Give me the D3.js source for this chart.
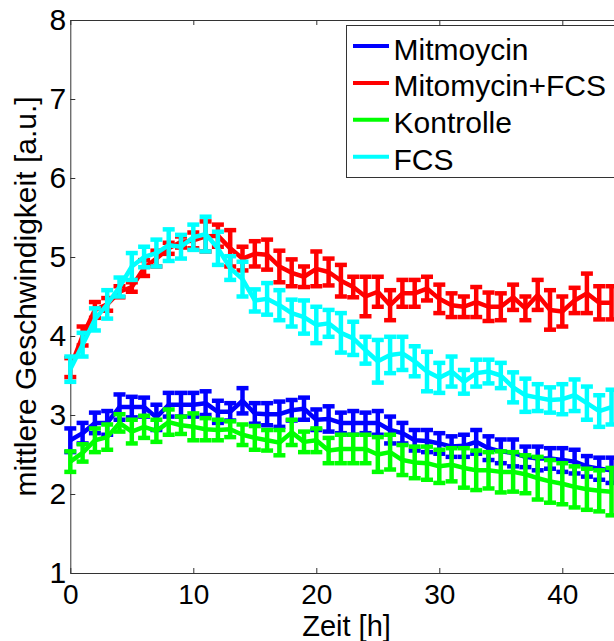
<!DOCTYPE html>
<html>
<head>
<meta charset="utf-8">
<script src="https://cdn.jsdelivr.net/npm/d3@7"></script>
<style>
  body { margin: 0; background: #fff; }
  svg { display: block; font-family: "Liberation Sans", Arial, sans-serif; }
</style>
</head>
<body>
<script>
// size of the page
const width = 614;
const height = 641;

// data
const hours = [0, 1, 2, 3, 4, 5, 6, 7, 8, 9, 10, 11, 12, 13, 14, 15, 16, 17, 18, 19, 20, 21,
  22, 23, 24, 25, 26, 27, 28, 29, 30, 31, 32, 33, 34, 35, 36, 37, 38, 39, 40, 41, 42, 43, 44];

const mitmoycin = [2.68, 2.77, 2.9, 2.9, 3.1, 3.1, 3.1, 2.97, 3.13, 3.13, 3.13, 3.15, 3.04, 3.04, 3.18,
  3.02, 3.01, 3.01, 3.06, 3.08, 2.94, 2.95, 2.9, 2.9, 2.9, 2.9, 2.81, 2.77, 2.68, 2.67, 2.64, 2.6,
  2.61, 2.66, 2.58, 2.54, 2.52, 2.47, 2.45, 2.45, 2.43, 2.41, 2.35, 2.32, 2.3];
const mitmoycinErr = [.15, .13, .13, .15, .16, .13, .12, .16, .15, .15, .15, .15, .14, .11, .16, .13,
  .14, .16, .13, .14, .13, .16, .13, .15, .13, .15, .17, .13, .13, .14, .13, .13, .14, .15, .15, .15,
  .17, .13, .15, .13, .15, .15, .13, .14, .16];

const mitomycinFcs = [3.6, 4.0, 4.33, 4.4, 4.56, 4.62, 4.86, 4.98, 5.11, 5.19, 5.21, 5.26, 5.27, 5.11,
  4.98, 5.04, 5.03, 4.88, 4.8, 4.75, 4.85, 4.81, 4.7, 4.62, 4.5, 4.56, 4.39, 4.54, 4.54, 4.6, 4.47,
  4.39, 4.37, 4.43, 4.37, 4.37, 4.49, 4.35, 4.52, 4.33, 4.31, 4.45, 4.54, 4.42, 4.42];
const mitomycinFcsErr = [.12, .12, .1, .08, .07, .06, .1, .1, .07, .07, .1, .19, .14, .23, .15, .16,
  .19, .2, .17, .13, .22, .17, .2, .13, .25, .19, .19, .17, .17, .15, .18, .15, .13, .19, .18, .17,
  .16, .15, .19, .25, .19, .16, .25, .21, .21];

const kontrolle = [2.41, 2.52, 2.68, 2.72, 2.9, 2.79, 2.85, 2.8, 2.91, 2.87, 2.85, 2.82, 2.81, 2.82,
  2.75, 2.71, 2.68, 2.65, 2.78, 2.66, 2.68, 2.55, 2.57, 2.57, 2.57, 2.5, 2.53, 2.43, 2.4, 2.39, 2.35,
  2.37, 2.33, 2.3, 2.3, 2.28, 2.28, 2.25, 2.2, 2.16, 2.13, 2.09, 2.06, 2.04, 2.03];
const kontrolleErr = [.13, .11, .15, .16, .11, .15, .14, .14, .16, .11, .17, .14, .13, .1, .13, .15,
  .13, .16, .16, .13, .15, .16, .18, .18, .18, .22, .22, .19, .2, .21, .21, .21, .25, .25, .23, .26,
  .25, .24, .27, .27, .26, .26, .26, .26, .3];

const fcs = [3.58, 3.89, 4.21, 4.4, 4.62, 4.88, 5.0, 5.05, 5.15, 5.13, 5.25, 5.29, 5.11, 4.86, 4.72,
  4.45, 4.47, 4.39, 4.29, 4.24, 4.14, 4.16, 4.04, 3.97, 3.82, 3.68, 3.76, 3.78, 3.68, 3.55, 3.47,
  3.55, 3.42, 3.53, 3.55, 3.5, 3.35, 3.25, 3.22, 3.19, 3.2, 3.25, 3.15, 3.05, 3.1];
const fcsErr = [.16, .15, .14, .18, .12, .17, .13, .17, .2, .15, .16, .22, .21, .15, .22, .14, .2,
  .19, .17, .21, .23, .17, .25, .21, .17, .27, .23, .21, .19, .25, .19, .19, .15, .17, .15, .16, .19,
  .21, .17, .16, .19, .2, .21, .2, .22];

const seriesNames = ['Mitmoycin', 'Mitomycin+FCS', 'Kontrolle', 'FCS'];
const seriesColors = ['#0000ff', '#ff0000', '#00ff00', '#00ffff'];
const xTicks = [0, 10, 20, 30, 40];
const yTicks = [1, 2, 3, 4, 5, 6, 7, 8];

const series = [
  { name: seriesNames[0], color: seriesColors[0], values: mitmoycin, err: mitmoycinErr },
  { name: seriesNames[1], color: seriesColors[1], values: mitomycinFcs, err: mitomycinFcsErr },
  { name: seriesNames[2], color: seriesColors[2], values: kontrolle, err: kontrolleErr },
  { name: seriesNames[3], color: seriesColors[3], values: fcs, err: fcsErr }
];

// svg
const svg = d3.select('body').append('svg').attr('width', width).attr('height', height);

const x = d3.scaleLinear().domain([0, 45]).range([70.3, 623.8]);
const y = d3.scaleLinear().domain([1, 8]).range([573, 20]);

const fontSize = 30;

// axes (MATLAB style, ticks pointing inward)
const styleAxis = (g, size) => {
  g.selectAll('.domain').attr('stroke', '#333').attr('stroke-width', 1);
  g.selectAll('.tick line').attr('stroke', '#333');
  g.selectAll('.tick text').attr('font-size', size).attr('fill', '#000')
    .attr('font-family', '"Liberation Sans", Arial, sans-serif');
};

svg.append('g')
  .attr('transform', `translate(0,${y(1)})`)
  .call(d3.axisBottom(x).tickValues(xTicks).tickFormat(d3.format('d'))
    .tickSizeInner(-5).tickSizeOuter(0).tickPadding(11))
  .call(styleAxis, 28);

svg.append('g')
  .attr('transform', `translate(0,${y(8)})`)
  .call(d3.axisTop(x).tickValues(xTicks).tickSizeInner(-5).tickSizeOuter(0).tickFormat(''))
  .call(styleAxis, 28);

svg.append('g')
  .attr('transform', `translate(${x(0)},0)`)
  .call(d3.axisLeft(y).tickValues(yTicks).tickFormat(d3.format('d'))
    .tickSizeInner(-5).tickSizeOuter(0).tickPadding(4))
  .call(styleAxis, fontSize);

// error bars and lines
const capHalf = 6;
const lineGen = d3.line().x((d) => x(d.h)).y((d) => y(d.v));

series.forEach((s) => {
  const pts = hours.map((h, i) => ({ h: h, v: s.values[i], e: s.err[i] }));
  const g = svg.append('g')
    .attr('stroke', s.color)
    .attr('stroke-width', 4.5)
    .attr('fill', 'none');

  g.selectAll('line.stem')
    .data(pts)
    .join('line')
      .attr('class', 'stem')
      .attr('x1', (d) => x(d.h)).attr('x2', (d) => x(d.h))
      .attr('y1', (d) => y(d.v - d.e)).attr('y2', (d) => y(d.v + d.e));

  g.selectAll('line.capTop')
    .data(pts)
    .join('line')
      .attr('class', 'capTop')
      .attr('x1', (d) => x(d.h) - capHalf).attr('x2', (d) => x(d.h) + capHalf)
      .attr('y1', (d) => y(d.v + d.e)).attr('y2', (d) => y(d.v + d.e));

  g.selectAll('line.capBot')
    .data(pts)
    .join('line')
      .attr('class', 'capBot')
      .attr('x1', (d) => x(d.h) - capHalf).attr('x2', (d) => x(d.h) + capHalf)
      .attr('y1', (d) => y(d.v - d.e)).attr('y2', (d) => y(d.v - d.e));

  g.append('path')
    .attr('d', lineGen(pts))
    .attr('stroke-linejoin', 'round');
});

// axis labels
svg.append('text')
  .attr('x', 346.5)
  .attr('y', 636)
  .attr('text-anchor', 'middle')
  .attr('font-size', 29)
  .text('Zeit [h]');

svg.append('text')
  .attr('transform', `translate(36,${(y(1) + y(8)) / 2}) rotate(-90)`)
  .attr('text-anchor', 'middle')
  .attr('font-size', fontSize)
  .text('mittlere Geschwindigkeit [a.u.]');

// legend
const legend = svg.append('g');
legend.append('rect')
  .attr('x', 346.5).attr('y', 25.5)
  .attr('width', 290).attr('height', 152)
  .attr('fill', '#fff')
  .attr('stroke', '#333')
  .attr('stroke-width', 1);

const rows = legend.selectAll('g.row')
  .data(series)
  .join('g')
    .attr('class', 'row')
    .attr('transform', (d, i) => `translate(0,${46 + i * 36.9})`);

rows.append('line')
  .attr('x1', 353).attr('x2', 389)
  .attr('stroke', (d) => d.color)
  .attr('stroke-width', 4);

rows.append('text')
  .attr('x', 393.5)
  .attr('y', 13.5)
  .attr('font-size', fontSize)
  .text((d) => d.name);
</script>
</body>
</html>
